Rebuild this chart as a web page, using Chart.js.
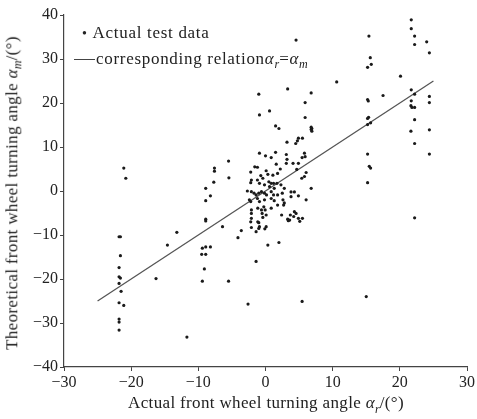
<!DOCTYPE html>
<html>
<head>
<meta charset="utf-8">
<script src="https://cdn.jsdelivr.net/npm/chart.js@4"></script>
<style>
  html, body { margin: 0; padding: 0; background: #fff; }
  #wrap { position: relative; width: 477px; height: 419px; font-family: "Liberation Serif", "Times New Roman", serif; color: #222; }
  #chart { position: absolute; left: 0; top: 0; }
  .title { position: absolute; white-space: nowrap; font-size: 17px; letter-spacing: 0.35px; }
  #ytitle { left: 14px; top: 193px; transform: translate(-50%, -50%) rotate(-90deg); }
  #xtitle { left: 266px; top: 405px; transform: translate(-50%, -50%); }
  .legend { position: absolute; font-size: 17px; letter-spacing: 0.7px; white-space: nowrap; }
  sub { font-size: 12px; letter-spacing: 0; }
</style>
</head>
<body>
<div id="wrap">
  <canvas id="chart" width="477" height="419"></canvas>
  <div class="title" id="ytitle">Theoretical front wheel turning angle <i>α</i><sub><i>m</i></sub>/(°)</div>
  <div class="title" id="xtitle">Actual front wheel turning angle <i>α</i><sub><i>r</i></sub>/(°)</div>
  <div class="legend" style="left:82px; top:23px;"><span style="font-size:14px">•</span>&nbsp;Actual test data</div>
  <div class="legend" style="left:74px; top:49px;"><span style="display:inline-block;width:21px;border-top:1.5px solid #444;vertical-align:middle;margin-top:-2px;margin-right:1px"></span>corresponding relation<i>α</i><sub><i>r</i></sub>=<i>α</i><sub><i>m</i></sub></div>
</div>
<script>
// measured pairs, [actual, theoretical]
const leftPoints = [
  [-21.1, 5.2], [-20.8, 2.9], [-21.8, -10.4], [-21.6, -10.4], [-21.6, -14.7], [-21.8, -17.4],
  [-21.8, -19.5], [-21.6, -19.8], [-21.8, -21], [-21.5, -22.8], [-21.8, -25.4], [-21.1, -26],
  [-21.8, -29.1], [-21.8, -29.8], [-21.8, -31.6],
  [-16.3, -19.9], [-14.6, -12.3], [-13.2, -9.4], [-11.7, -33.2],
  [-5.5, 6.8], [-5.45, 3.0], [-7.6, 5.2], [-7.6, 4.5], [-7.7, 2.0], [-8.9, 0.6], [-8.2, -1.1],
  [-8.9, -2.2], [-8.9, -6.4], [-8.9, -6.8], [-6.4, -8.1], [-4.1, -10.6], [-3.6, -9.0],
  [-9.4, -13], [-8.9, -12.7], [-8.2, -12.7], [-9.5, -14.4], [-8.9, -14.4], [-9.1, -17.7],
  [-9.4, -20.5], [-5.5, -20.5]
];
const centerPoints = [
  [4.55, 34.3], [-1.0, 22.0], [3.3, 23.2], [5.9, 20.1], [-0.9, 17.3], [0.6, 18.2], [5.9, 16.7],
  [1.5, 14.8], [2.0, 14.2], [6.9, 14.2], [6.9, 13.6], [4.9, 12.0], [4.75, 11.4], [4.5, 10.8],
  [5.5, 12.0], [3.2, 11.1],
  [-0.9, 8.6], [0.0, 8.0], [1.5, 8.8], [0.85, 7.6], [3.1, 8.3], [3.2, 7.2], [4.1, 6.3], [4.9, 6.3],
  [5.8, 8.6], [5.9, 7.8], [5.45, 7.6], [-1.6, 5.5], [-1.2, 5.4], [-2.2, 4.3], [0.1, 4.6], [1.6, 6.1],
  [2.2, 5.0], [3.1, 6.3], [-0.7, 3.5], [-0.4, 2.9], [0.35, 3.8], [1.1, 3.6], [1.8, 4.0], [4.65, 4.9],
  [6.05, 4.2], [5.8, 3.3], [5.4, 2.9], [-2.1, 2.5], [-2.2, 1.9], [-1.2, 2.5], [-0.9, 1.75],
  [-0.15, 1.4], [0.5, 2.1], [0.85, 1.75], [1.2, 1.75], [0.6, 1.0], [1.3, 0.6], [1.7, 1.75],
  [2.3, 1.4], [2.8, 0.6], [3.8, -0.2], [4.3, -0.2], [-2.7, 0.0], [-2.1, -0.15], [-1.7, -0.5],
  [-1.4, -0.9], [-1.0, -0.5], [-0.6, -0.15], [-0.15, -0.5], [0.15, -0.9], [0.85, -0.15],
  [1.2, -0.9], [1.8, -0.9], [2.5, -0.5], [-2.4, -2.0], [-2.2, -2.4], [-1.2, -1.7], [-0.9, -2.4],
  [-0.15, -2.0], [0.85, -1.7], [1.3, -2.2], [2.6, -2.0], [2.8, -2.7], [3.8, -1.3], [4.9, -1.1],
  [6.05, -2.0], [-2.1, -4.3], [-2.1, -5.1], [-1.15, -3.9], [-0.25, -3.6], [-0.05, -4.3],
  [0.85, -3.9], [1.8, -3.2], [2.7, -3.2], [3.7, -5.45], [4.3, -4.7], [4.9, -6.2], [5.5, -6.2],
  [3.3, -6.4], [-2.1, -6.2], [-2.2, -7.0], [-1.15, -7.0], [-0.4, -6.0], [0.1, -5.45],
  [-0.9, -8.1], [0.1, -8.1], [-2.1, -8.3], [-1.4, -9.25], [-1.0, -8.5], [-0.1, -8.6],
  [-1.0, -7.2], [0.35, -12.3], [2.0, -11.7], [-1.4, -16.0], [-2.6, -25.7], [5.45, -25.1],
  [2.4, -5.45], [3.4, -6.75], [3.6, -6.6], [4.2, -5.8], [4.55, -5.1], [5.1, -6.9],
  [-0.5, -5.1], [-0.6, -4.3], [6.8, 22.3], [6.8, 14.5], [6.8, 14.0], [6.8, 0.6]
];
const rightPoints = [
  [15.4, 35.2], [15.6, 30.3], [15.75, 28.8], [15.2, 28.1], [10.6, 24.8], [15.2, 20.8],
  [15.3, 20.45], [17.5, 21.7], [15.35, 16.75], [15.2, 16.5], [15.65, 15.5], [15.2, 15.1],
  [15.2, 8.4], [15.45, 5.6], [15.65, 5.2], [15.2, 1.9], [15.0, -24.0],
  [21.7, 38.9], [21.7, 36.9], [22.2, 35.2], [22.2, 33.3], [24.0, 33.9], [24.4, 31.4],
  [20.1, 26.1], [21.7, 23.0], [22.2, 22.0], [24.4, 21.5], [24.4, 20.1], [21.7, 20.5],
  [21.65, 19.4], [21.8, 19.0], [22.2, 19.0], [22.2, 16.2], [21.65, 13.6], [24.4, 13.9],
  [22.2, 10.8], [24.4, 8.4], [22.2, -6.1]
];
const relationLine = [[-25, -25], [25, 25]];
const xTicks = [-30, -20, -10, 0, 10, 20, 30];
const yTicks = [-40, -30, -20, -10, 0, 10, 20, 30, 40];

const toXY = arr => arr.map(p => ({x: p[0], y: p[1]}));
const fmt = v => String(v).replace('-', '\u2212');
const tickFont = {family: '"Liberation Serif", "Times New Roman", serif', size: 16};

new Chart(document.getElementById('chart'), {
  type: 'scatter',
  data: {
    datasets: [{
      data: toXY(leftPoints.concat(centerPoints, rightPoints)),
      pointRadius: 1.6,
      pointBackgroundColor: '#1a1a1a',
      pointBorderWidth: 0
    }, {
      type: 'line',
      data: toXY(relationLine),
      borderColor: '#555',
      borderWidth: 1.3,
      pointRadius: 0,
      fill: false
    }]
  },
  options: {
    responsive: false,
    animation: false,
    layout: {padding: {top: 15, right: 9, left: 0, bottom: 0}},
    plugins: {legend: {display: false}, tooltip: {enabled: false}},
    scales: {
      x: {
        type: 'linear', min: -30, max: 30,
        afterBuildTicks: s => { s.ticks = xTicks.map(v => ({value: v})); },
        afterFit: s => { s.height = 52; },
        border: {color: '#444', width: 1.2},
        grid: {display: true, drawOnChartArea: false, tickLength: 4, color: '#444'},
        ticks: {color: '#222', font: tickFont, padding: 2, maxRotation: 0, callback: v => fmt(v)}
      },
      y: {
        type: 'linear', min: -40, max: 40,
        afterBuildTicks: s => { s.ticks = yTicks.map(v => ({value: v})); },
        afterFit: s => { s.width = 64; },
        border: {color: '#444', width: 1.2},
        grid: {display: true, drawOnChartArea: false, tickLength: 4, color: '#444'},
        ticks: {color: '#222', font: tickFont, padding: 2, callback: v => fmt(v)}
      }
    }
  }
});
</script>
</body>
</html>
